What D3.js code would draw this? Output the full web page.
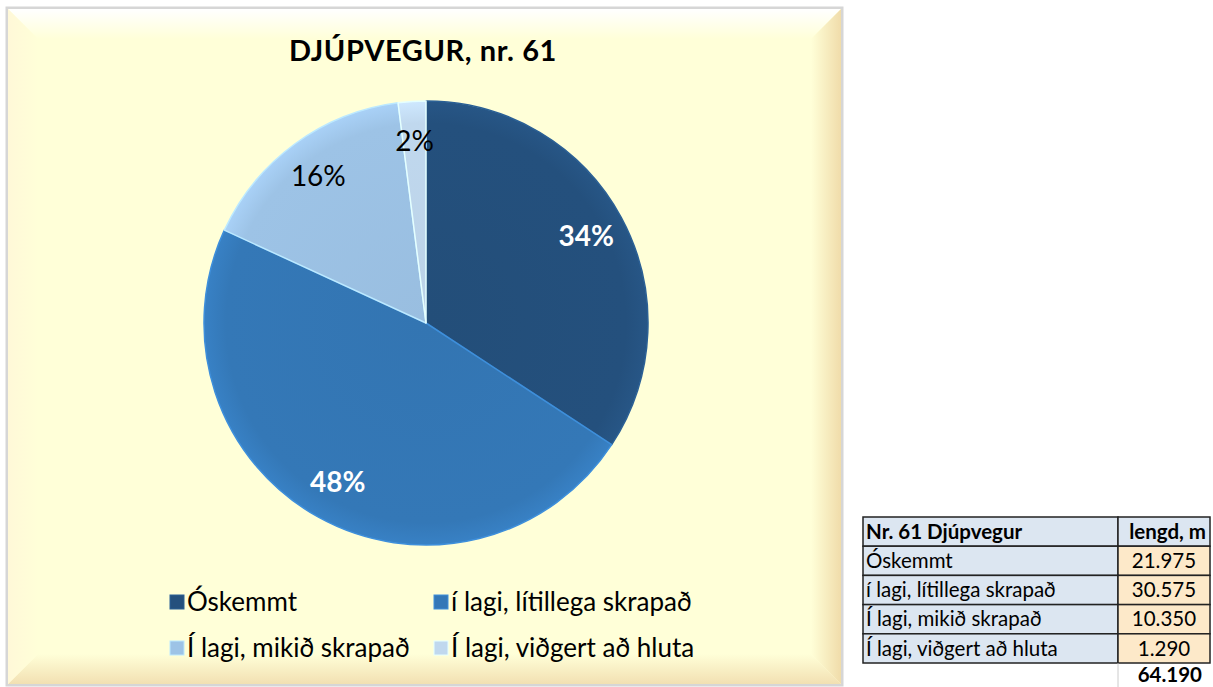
<!DOCTYPE html>
<html>
<head>
<meta charset="utf-8">
<script src="https://cdn.jsdelivr.net/npm/d3@7"></script>
<style>
  body { margin: 0; background: #fff; font-family: Lato, "Open Sans", sans-serif; }
  svg { display: block; }
</style>
</head>
<body>
<svg id="chart" width="1213" height="687"></svg>
<script>
// chart data
const categories = ['Óskemmt', 'í lagi, lítillega skrapað', 'Í lagi, mikið skrapað', 'Í lagi, viðgert að hluta'];
const lengths = [21975, 30575, 10350, 1290];
const colors = ['#24507d', '#3478b7', '#9dc3e6', '#c0d8ee'];
const labelColors = ['#fff', '#fff', '#000', '#000'];
const tableTitle = 'Nr. 61 Djúpvegur';
const tableHead = 'lengd, m';
const totalLabel = '64.190';

const svg = d3.select('#chart');
const defs = svg.append('defs');

// frame with bevel
const fx = 8, fy = 9, fw = 833, fh = 675, bev = 30;
svg.append('rect')
  .attr('x', fx - 1).attr('y', fy - 1).attr('width', fw + 2).attr('height', fh + 2)
  .attr('fill', 'none').attr('stroke', '#d6d6d6').attr('stroke-width', 3);
svg.append('rect')
  .attr('x', fx).attr('y', fy).attr('width', fw).attr('height', fh)
  .attr('fill', '#ffffd8');

function grad(id, x1, y1, x2, y2, c1, c2) {
  const g = defs.append('linearGradient').attr('id', id)
    .attr('x1', x1).attr('y1', y1).attr('x2', x2).attr('y2', y2);
  g.append('stop').attr('offset', '0%').attr('stop-color', c1);
  g.append('stop').attr('offset', '100%').attr('stop-color', c2);
}
grad('gTop', 0, 0, 0, 1, '#ffffff', '#ffffd8');
grad('gBot', 0, 0, 0, 1, '#ffffd8', '#f2e0b2');
grad('gRight', 0, 0, 1, 0, '#ffffd8', '#f0dcaa');
grad('gLeft', 0, 0, 1, 0, '#fff8d8', '#ffffd8');

const x0 = fx, y0 = fy, x1 = fx + fw, y1 = fy + fh;
svg.append('polygon').attr('fill', 'url(#gTop)')
  .attr('points', [[x0, y0], [x1, y0], [x1 - bev, y0 + bev], [x0 + bev, y0 + bev]].join(' '));
svg.append('polygon').attr('fill', 'url(#gBot)')
  .attr('points', [[x0, y1], [x1, y1], [x1 - bev, y1 - bev], [x0 + bev, y1 - bev]].join(' '));
svg.append('polygon').attr('fill', 'url(#gRight)')
  .attr('points', [[x1, y0], [x1, y1], [x1 - bev, y1 - bev], [x1 - bev, y0 + bev]].join(' '));
svg.append('polygon').attr('fill', 'url(#gLeft)')
  .attr('points', [[x0, y0], [x0, y1], [x0 + bev, y1 - bev], [x0 + bev, y0 + bev]].join(' '));

// title
svg.append('text')
  .attr('x', 423).attr('y', 61)
  .attr('text-anchor', 'middle')
  .style('font-size', '29px').style('font-weight', 'bold')
  .style('letter-spacing', '0.6px')
  .text('DJÚPVEGUR, nr. 61');

// pie
const cx = 426, cy = 323, r = 222;
const total = d3.sum(lengths);
const pie = d3.pie().sort(null).value(d => d)(lengths);
const arc = d3.arc().innerRadius(0).outerRadius(r);
const labelArc = d3.arc().innerRadius(r * 0.82).outerRadius(r * 0.82);

colors.forEach((c, i) => {
  const g = defs.append('radialGradient').attr('id', 'sl' + i)
    .attr('gradientUnits', 'userSpaceOnUse')
    .attr('cx', 0).attr('cy', 0).attr('r', r);
  g.append('stop').attr('offset', '0%').attr('stop-color', d3.color(c).darker(0.08));
  g.append('stop').attr('offset', '90%').attr('stop-color', c);
  g.append('stop').attr('offset', '100%').attr('stop-color', d3.color(c).brighter(0.2));
});

const pg = svg.append('g').attr('transform', `translate(${cx},${cy})`);
pg.selectAll('path.slice')
  .data(pie)
  .enter()
  .append('path')
  .attr('class', 'slice')
  .attr('d', arc)
  .attr('fill', (d, i) => `url(#sl${i})`)
  .attr('stroke', (d, i) => d3.color(colors[i]).brighter(0.5))
  .attr('stroke-width', 1.5)
  .attr('stroke-linejoin', 'round');

pg.selectAll('text.lbl')
  .data(pie)
  .enter()
  .append('text')
  .attr('class', 'lbl')
  .attr('transform', d => `translate(${labelArc.centroid(d)})`)
  .attr('text-anchor', 'middle')
  .attr('dy', '0.35em')
  .style('font-size', '28px')
  .style('font-weight', (d, i) => i < 2 ? 'bold' : 'normal')
  .attr('fill', (d, i) => labelColors[i])
  .text(d => Math.round(d.value / total * 100) + '%');

// legend
const legendPos = [[170, 602], [434, 602], [170, 648], [434, 648]];
const lg = svg.append('g');
categories.forEach((name, i) => {
  const [lx, ly] = legendPos[i];
  lg.append('rect')
    .attr('x', lx).attr('y', ly - 7).attr('width', 14).attr('height', 14)
    .attr('fill', colors[i]).attr('stroke', d3.color(colors[i]).brighter(0.5)).attr('stroke-width', 1);
  lg.append('text')
    .attr('x', lx + 17).attr('y', ly).attr('dy', '0.35em')
    .style('font-size', '26px')
    .text(name);
});

// table
const tx = 863, tw1 = 255, tw2 = 92, rowH = 29.2, ty = 517;
const tg = svg.append('g').style('font-size', '20.5px');
const rows = [[tableTitle, tableHead]].concat(categories.map((c, i) => [c, d3.format(',')(lengths[i]).replace(/,/g, '.')]));
rows.forEach((row, i) => {
  const yy = ty + i * rowH;
  tg.append('rect').attr('x', tx).attr('y', yy).attr('width', tw1).attr('height', rowH)
    .attr('fill', '#dce6f1').attr('stroke', '#222').attr('stroke-width', 1.5);
  tg.append('rect').attr('x', tx + tw1).attr('y', yy).attr('width', tw2).attr('height', rowH)
    .attr('fill', i === 0 ? '#dce6f1' : '#fde9c9').attr('stroke', '#222').attr('stroke-width', 1.5);
  tg.append('text').attr('x', tx + 3).attr('y', yy + rowH / 2).attr('dy', '0.35em')
    .style('font-weight', i === 0 ? 'bold' : 'normal').text(row[0]);
  tg.append('text').attr('x', i === 0 ? tx + tw1 + tw2 - 4 : tx + tw1 + tw2 / 2)
    .attr('y', yy + rowH / 2).attr('dy', '0.35em')
    .attr('text-anchor', i === 0 ? 'end' : 'middle')
    .style('font-weight', i === 0 ? 'bold' : 'normal').text(row[1]);
});
tg.append('line').attr('x1', tx + tw1).attr('x2', tx + tw1)
  .attr('y1', ty + 5 * rowH).attr('y2', 687).attr('stroke', '#ccc');
tg.append('text').attr('x', tx + tw1 + tw2 - 8).attr('y', ty + 5 * rowH + 12).attr('dy', '0.35em')
  .attr('text-anchor', 'end').style('font-weight', 'bold').text(totalLabel);
</script>
</body>
</html>
